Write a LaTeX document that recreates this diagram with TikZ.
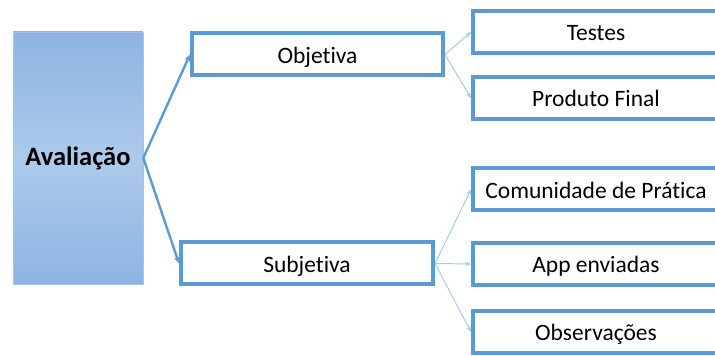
\documentclass[tikz,border=0pt]{standalone}
\usepackage{fontspec}
\setmainfont{Carlito}[Ligatures=NoCommon]
\usetikzlibrary{arrows.meta, positioning}
\definecolor{edge}{HTML}{5B9BD5}
\definecolor{thin}{HTML}{A9CBEA}
\definecolor{fillout}{HTML}{8DB4E2}
\definecolor{fillin}{HTML}{ADCAEA}

\begin{document}
\begin{tikzpicture}[
    x=1pt, y=1pt,
    >=Stealth,
    root/.style={minimum width=130pt, minimum height=252pt, inner sep=0pt,
                 top color=fillout, bottom color=fillout, middle color=fillin,
                 draw=fillout!80!white, line width=0.6pt,
                 font=\fontsize{26.5}{30}\selectfont\bfseries},
    block/.style={draw=edge, line width=4pt, fill=white, inner sep=0pt,
                  text height=18pt, text depth=0pt,
                  minimum height=42pt, font=\fontsize{23.5}{28}\selectfont},
    leaf/.style={block, minimum width=246pt},
    arrow/.style={-{Stealth[length=7pt,width=6pt]}, line width=2.4pt, color=edge},
    link/.style={-{Stealth[length=6pt,width=5pt]}, line width=1pt, color=thin},
]
    \useasboundingbox (0,0) rectangle (715,356);

    % Root
    \node[root] (aval) at (78,198) {Avaliação};

    % Second level
    \node[block, minimum width=251pt] (obj) at (317.5,301.5) {Objetiva};
    \node[block, minimum width=252pt] (subj) at (307,92.5) {Subjetiva};

    % Leaves
    \node[leaf] (testes) at (596,324) {Testes};
    \node[leaf] (produto) at (596,258) {Produto Final};
    \node[leaf] (comunidade) at (596,166.5) {Comunidade de Prática};
    \node[leaf] (app) at (596,92) {App enviadas};
    \node[leaf] (obs) at (596,24) {Observações};

    % Arrows
    \draw[arrow] (aval.east) -- (obj.west);
    \draw[arrow] (aval.east) -- (subj.west);

    \draw[link] (obj.east) -- (testes.west);
    \draw[link] (obj.east) -- (produto.west);
    \draw[link] (subj.east) -- (comunidade.west);
    \draw[link] (subj.east) -- (app.west);
    \draw[link] (subj.east) -- (obs.west);
\end{tikzpicture}
\end{document}
